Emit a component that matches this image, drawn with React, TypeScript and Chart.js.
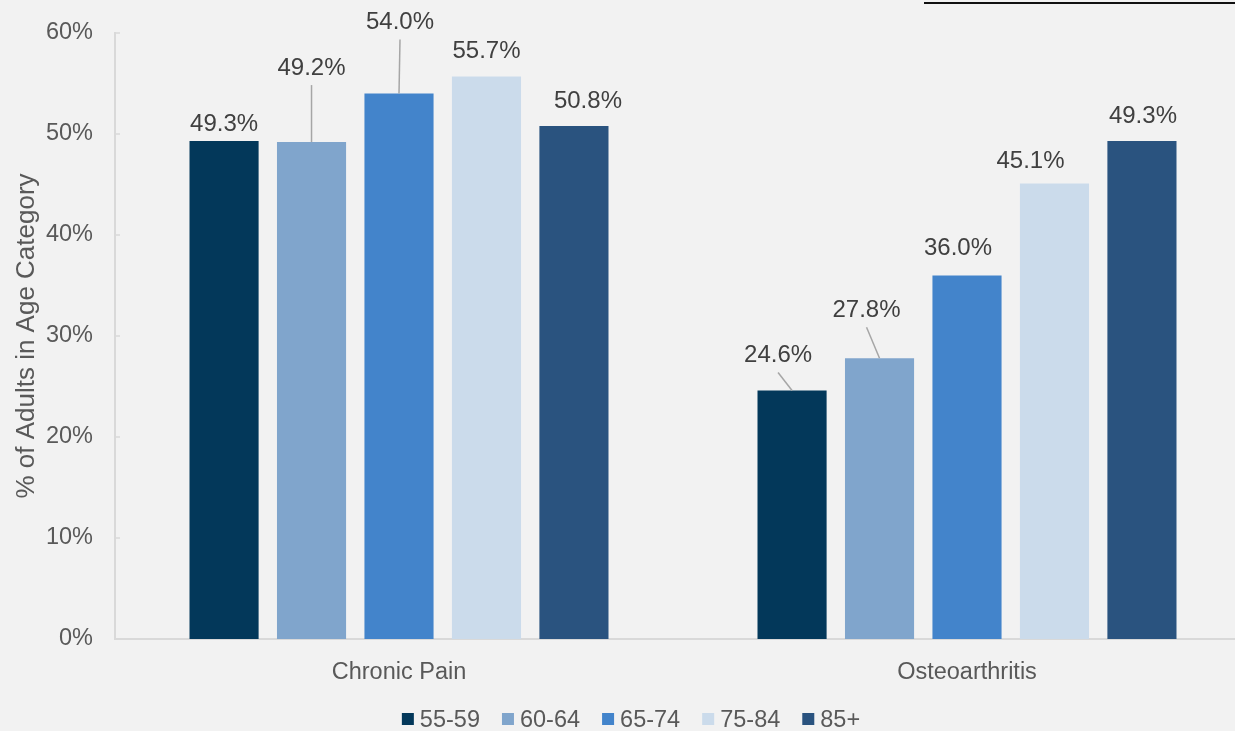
import React, { useEffect, useRef } from "react";
import { Chart, registerables } from "chart.js";

Chart.register(...registerables);

const categories = ["Chronic Pain", "Osteoarthritis"];
const ageGroups = ["55-59", "60-64", "65-74", "75-84", "85+"];
const age5559 = [49.3, 24.6];
const age6064 = [49.2, 27.8];
const age6574 = [54.0, 36.0];
const age7584 = [55.7, 45.1];
const age85plus = [50.8, 49.3];
const yTickValues = [0, 10, 20, 30, 40, 50, 60];

const seriesValues = [age5559, age6064, age6574, age7584, age85plus];
const seriesColors = ["#03385A", "#80A5CC", "#4384CB", "#CBDBEB", "#2A537F"];

// label placement (pixel offsets from bar top-centre), per series then category
const labelPlacement = [
  [{ dx: 0, dy: -17, leader: false }, { dx: -14, dy: -35, leader: true }],
  [{ dx: 0, dy: -74, leader: true }, { dx: -13, dy: -48, leader: true }],
  [{ dx: 1, dy: -71, leader: true }, { dx: -9, dy: -27, leader: false }],
  [{ dx: 0, dy: -25, leader: false }, { dx: -24, dy: -22, leader: false }],
  [{ dx: 14, dy: -25, leader: false }, { dx: 1, dy: -25, leader: false }],
];

const FONT = "'Liberation Sans', Arial, sans-serif";

const extrasPlugin = {
  id: "extras",
  afterDatasetsDraw(chart: any) {
    const ctx = chart.ctx;
    ctx.save();
    ctx.font = `24px ${FONT}`;
    ctx.fillStyle = "#404040";
    ctx.textAlign = "center";
    ctx.textBaseline = "middle";
    chart.data.datasets.forEach((ds: any, i: number) => {
      const meta = chart.getDatasetMeta(i);
      meta.data.forEach((bar: any, j: number) => {
        const p = labelPlacement[i][j];
        const lx = bar.x + p.dx;
        const ly = bar.y + p.dy;
        if (p.leader) {
          ctx.strokeStyle = "#A6A6A6";
          ctx.lineWidth = 1.5;
          ctx.beginPath();
          ctx.moveTo(lx, ly + 17);
          ctx.lineTo(bar.x, bar.y);
          ctx.stroke();
        }
        ctx.fillText(ds.data[j].toFixed(1) + "%", lx, ly);
      });
    });
    ctx.restore();
  },
  afterDraw(chart: any) {
    const ctx = chart.ctx;
    const y = chart.scales.y;
    const area = chart.chartArea;
    ctx.save();
    ctx.strokeStyle = "#D9D9D9";
    ctx.lineWidth = 1.5;
    yTickValues.forEach((v) => {
      const py = y.getPixelForValue(v);
      ctx.beginPath();
      ctx.moveTo(area.left, py);
      ctx.lineTo(area.left + 5, py);
      ctx.stroke();
    });
    ctx.font = `23.5px ${FONT}`;
    ctx.textBaseline = "middle";
    ctx.textAlign = "left";
    const box = 12;
    const gapText = 6;
    const gapItem = 22;
    const widths = ageGroups.map((g) => ctx.measureText(g).width);
    const total =
      widths.reduce((a, w) => a + box + gapText + w, 0) + gapItem * (ageGroups.length - 1);
    let x = 631 - total / 2;
    const cy = 720;
    ageGroups.forEach((g, i) => {
      ctx.fillStyle = seriesColors[i];
      ctx.fillRect(x, cy - box / 2 - 1, box, box);
      ctx.fillStyle = "#595959";
      ctx.fillText(g, x + box + gapText, cy + 1);
      x += box + gapText + widths[i] + gapItem;
    });
    ctx.strokeStyle = "#111111";
    ctx.lineWidth = 2;
    ctx.beginPath();
    ctx.moveTo(924, 3);
    ctx.lineTo(1251, 3);
    ctx.stroke();
    ctx.restore();
  },
};

export default function App() {
  const ref = useRef<HTMLCanvasElement | null>(null);

  useEffect(() => {
    document.body.style.margin = "0";
    document.body.style.background = "#F2F2F2";
    const canvas = ref.current!;
    const chart = new Chart(canvas, {
      type: "bar",
      data: {
        labels: categories,
        datasets: ageGroups.map((g, i) => ({
          label: g,
          data: seriesValues[i],
          backgroundColor: seriesColors[i],
          borderWidth: 0,
          categoryPercentage: 0.77,
          barPercentage: 0.79,
        })),
      },
      options: {
        responsive: false,
        animation: false,
        devicePixelRatio: 1,
        layout: { padding: { top: 33, right: 0, bottom: 0, left: 0 } },
        plugins: {
          legend: { display: false },
          tooltip: { enabled: false },
        },
        scales: {
          x: {
            grid: { display: false, drawTicks: false },
            border: { display: true, color: "#D9D9D9", width: 2 },
            ticks: {
              color: "#595959",
              font: { family: FONT, size: 23.5 },
              padding: 19,
            },
            afterFit: (s: any) => {
              s.height = 92;
              s.paddingLeft = 0;
              s.paddingRight = 0;
            },
          },
          y: {
            min: 0,
            max: 60,
            afterBuildTicks: (s: any) => {
              s.ticks = yTickValues.map((v) => ({ value: v }));
            },
            grid: { display: false, drawTicks: false },
            border: { display: true, color: "#D9D9D9", width: 2 },
            ticks: {
              color: "#595959",
              font: { family: FONT, size: 23.5 },
              padding: 22,
              callback: (v: any) => v + "%",
            },
            title: {
              display: true,
              text: "% of Adults in Age Category",
              color: "#595959",
              font: { family: FONT, size: 26 },
              padding: { top: 11, bottom: 0 },
            },
            afterFit: (s: any) => {
              s.width = 115;
              s.paddingTop = 0;
              s.paddingBottom = 0;
            },
          },
        },
      },
      plugins: [extrasPlugin],
    });
    return () => chart.destroy();
  }, []);

  return (
    <div
      style={{
        width: 1235,
        height: 731,
        overflow: "hidden",
        position: "relative",
        background: "#F2F2F2",
      }}
    >
      <canvas ref={ref} width={1251} height={731} style={{ display: "block", width: 1251, height: 731 }} />
    </div>
  );
}
